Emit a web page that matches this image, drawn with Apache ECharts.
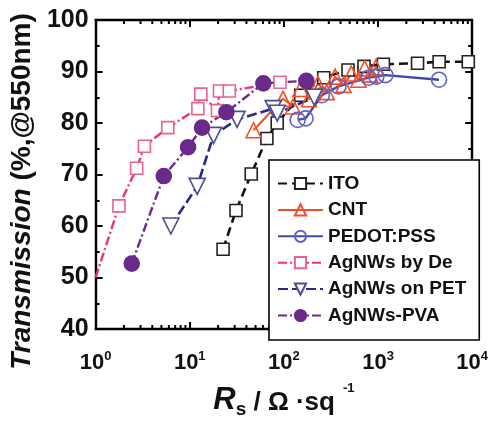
<!DOCTYPE html>
<html>
<head>
<meta charset="utf-8">
<script src="https://cdn.jsdelivr.net/npm/echarts@6/dist/echarts.min.js"></script>
<style>html,body{margin:0;padding:0;background:#fff;}#c{width:491px;height:424px;}</style>
</head>
<body>
<div id="c"></div>
<script>
// ---- data (R_s in ohm/sq, transmission in %) ----
var itoR = [22.6, 31, 45, 66, 85, 151, 265, 480, 710, 1140, 2630, 4460, 9100];
var itoT = [55.5, 63, 70.1, 77, 80, 85.4, 88.8, 90.3, 91, 91.4, 91.6, 91.9, 91.9];
var cntR = [47.6, 98, 125, 150, 185, 230, 285, 350, 430, 520, 620, 720, 830, 950];
var cntT = [78.6, 84.7, 83.2, 86.6, 84.6, 87.6, 86.0, 89.0, 87.4, 89.6, 88.4, 90.6, 89.4, 90.8];
var pedotR = [140, 170, 253, 380, 795, 960, 1200, 4450];
var pedotT = [80.6, 80.9, 85.4, 87.1, 88.8, 89.0, 89.3, 88.4];
var deR = [1.0, 1.77, 2.73, 3.3, 5.85, 12.2, 13.1, 19.7, 20.7, 26.3, 91];
var deT = [50, 63.9, 71.2, 75.5, 79.1, 82.8, 85.6, 82.4, 86.2, 86.2, 87.9];
var petR = [6.3, 12, 17.9, 31.8, 77, 85, 210];
var petT = [60, 67.7, 77.6, 80.7, 82.8, 81.9, 85.0];
var pvaR = [2.42, 5.3, 9.6, 13.5, 24.5, 60.5, 173];
var pvaT = [52.7, 69.7, 75.3, 79.1, 82.1, 87.7, 88.2];
var seriesNames = ['ITO', 'CNT', 'PEDOT:PSS', 'AgNWs by De', 'AgNWs on PET', 'AgNWs-PVA'];
var yTicks = [40, 50, 60, 70, 80, 90, 100];
var xDecades = [1, 10, 100, 1000, 10000];
var minorMultipliers = [2, 3, 4, 5, 6, 7, 8, 9];

function pairs(xs, ys) { return xs.map(function (x, i) { return [x, ys[i]]; }); }

var minorTickValues = [];
xDecades.slice(0, -1).forEach(function (d) {
  minorMultipliers.forEach(function (m) { minorTickValues.push(d * m); });
});

var deData = pairs(deR, deT).map(function (p, i) {
  return i === 0 ? { value: p, symbol: 'none' } : p;
});

var chart = echarts.init(document.getElementById('c'), null, { renderer: 'canvas' });

var FF = 'Liberation Sans, Arial, sans-serif';

function lineSeries(name, data, color, symColor, symbol, fill, dash, width, size, rot) {
  return {
    name: name, type: 'line', data: data, xAxisIndex: 0, yAxisIndex: 0,
    symbol: symbol, symbolSize: size, symbolRotate: rot || 0,
    showSymbol: true, clip: true,
    lineStyle: { color: color, width: width, type: dash },
    itemStyle: { color: fill, borderColor: symColor, borderWidth: 1.6 },
    emphasis: { disabled: true }, animation: false, z: 3
  };
}

var option = {
  animation: false,
  backgroundColor: '#fff',
  grid: { left: 93, right: 13, top: 20, bottom: 84 },
  legend: {
    data: seriesNames,
    orient: 'vertical',
    left: 269, top: 160,
    backgroundColor: '#fff',
    borderColor: '#000', borderWidth: 1.6,
    padding: [14, 13, 15, 8],
    itemWidth: 45, itemHeight: 14, itemGap: 7.4,
    textStyle: { fontFamily: FF, fontWeight: 'bold', fontSize: 19, color: '#111', lineHeight: 19 },
    z: 10
  },
  xAxis: [{
    type: 'log', logBase: 10, min: 1, max: 10000, position: 'bottom',
    axisLine: { lineStyle: { color: '#000', width: 2.4 } },
    axisTick: { inside: true, length: 7, lineStyle: { width: 2 } },
    splitLine: { show: false },
    axisLabel: {
      margin: 21,
      formatter: function (v) { return '{b|10}{s|' + Math.round(Math.log10(v)) + '}'; },
      rich: {
        b: { fontFamily: FF, fontWeight: 'bold', fontSize: 22, color: '#111', verticalAlign: 'bottom', lineHeight: 24 },
        s: { fontFamily: FF, fontWeight: 'bold', fontSize: 13, color: '#111', verticalAlign: 'top', lineHeight: 24, padding: [0, 0, 10, 0] }
      }
    },
    name: '{r|R}{sub|s}{t| / Ω ·sq}{sup|-1}',
    nameLocation: 'middle', nameGap: 53,
    nameTextStyle: {
      rich: {
        r: { fontFamily: FF, fontWeight: 'bold', fontStyle: 'italic', fontSize: 31, color: '#111', verticalAlign: 'bottom', lineHeight: 34 },
        sub: { fontFamily: FF, fontWeight: 'bold', fontSize: 19, color: '#111', verticalAlign: 'bottom', lineHeight: 34, padding: [0, 0, -3, 0] },
        t: { fontFamily: FF, fontWeight: 'bold', fontSize: 26, color: '#111', verticalAlign: 'bottom', lineHeight: 34 },
        sup: { fontFamily: FF, fontWeight: 'bold', fontSize: 13, color: '#111', verticalAlign: 'top', lineHeight: 34, padding: [0, 0, 24, 8] }
      }
    }
  }, {
    type: 'log', logBase: 10, min: 1, max: 10000, position: 'top',
    axisLine: { lineStyle: { color: '#000', width: 2.4 } },
    axisTick: { inside: true, length: 7, lineStyle: { width: 2 } },
    axisLabel: { show: false }, splitLine: { show: false }
  }],
  yAxis: [{
    type: 'value', min: 40, max: 100, interval: 10, position: 'left',
    axisLine: { show: true, lineStyle: { color: '#000', width: 2.4 } },
    axisTick: { show: true, inside: true, length: 7, lineStyle: { width: 2 } },
    minorTick: { show: true, splitNumber: 2, length: 4, lineStyle: { color: '#000', width: 2 } },
    splitLine: { show: false },
    axisLabel: {
      margin: 7, color: '#111',
      fontFamily: FF, fontWeight: 'bold', fontSize: 25,
      formatter: function (v) { return yTicks.indexOf(v) >= 0 ? String(v) : ''; }
    },
    name: '{i|Transmission} (%,@550nm)',
    nameLocation: 'middle', nameGap: 46, nameRotate: 90,
    nameTextStyle: {
      fontFamily: FF, fontWeight: 'bold', fontSize: 28, color: '#111',
      padding: [0, 34, 0, 0],
      rich: {
        i: { fontFamily: FF, fontWeight: 'bold', fontStyle: 'italic', fontSize: 28, color: '#111' }
      }
    }
  }, {
    type: 'value', min: 40, max: 100, interval: 10, position: 'right',
    axisLine: { show: true, lineStyle: { color: '#000', width: 2.4 } },
    axisTick: { show: true, inside: true, length: 7, lineStyle: { width: 2 } },
    minorTick: { show: true, splitNumber: 2, length: 4, lineStyle: { color: '#000', width: 2 } },
    axisLabel: { show: false }, splitLine: { show: false }
  }],
  series: [
    lineSeries('ITO', pairs(itoR, itoT), '#111', '#222', 'rect', '#fff', [9, 5], 2.6, 12),
    lineSeries('CNT', pairs(cntR, cntT), '#f0502a', '#f0502a', 'triangle', 'rgba(255,255,255,0)', 'solid', 2, 15),
    lineSeries('PEDOT:PSS', pairs(pedotR, pedotT), '#4646b0', '#6262c4', 'circle', 'rgba(255,255,255,0)', 'solid', 2.4, 15),
    lineSeries('AgNWs by De', deData, '#f0307a', '#e8648e', 'rect', '#fff', [9, 3, 2, 3], 2.4, 12),
    lineSeries('AgNWs on PET', pairs(petR, petT), '#242a86', '#4c4c8e', 'triangle', '#fff', [10, 4], 2.6, 16, 180),
    lineSeries('AgNWs-PVA', pairs(pvaR, pvaT), '#6a2a8a', '#6a2a8a', 'circle', '#6a2a8a', [9, 3, 2, 3], 2.4, 15),
    {
      type: 'custom', name: 'minorTicks', xAxisIndex: 0, yAxisIndex: 0,
      data: minorTickValues.map(function (v) { return [v, 40]; }),
      silent: true, animation: false, z: 5,
      renderItem: function (params, api) {
        var cs = params.coordSys;
        var x = api.coord([api.value(0), 40])[0];
        return {
          type: 'group',
          children: [
            { type: 'line', shape: { x1: x, y1: cs.y + cs.height, x2: x, y2: cs.y + cs.height - 4 }, style: { stroke: '#000', lineWidth: 2 } },
            { type: 'line', shape: { x1: x, y1: cs.y, x2: x, y2: cs.y + 4 }, style: { stroke: '#000', lineWidth: 2 } }
          ]
        };
      }
    }
  ]
};
chart.setOption(option);
</script>
</body>
</html>
